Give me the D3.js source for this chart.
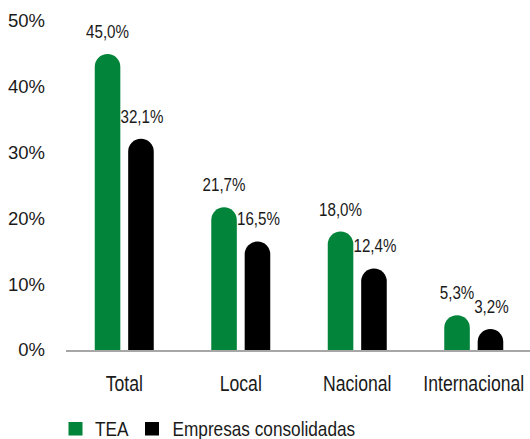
<!DOCTYPE html>
<html><head><meta charset="utf-8">
<script src="https://cdn.jsdelivr.net/npm/d3@7"></script>
<style>body{margin:0;background:#fff}svg{display:block}text{fill:#1a1a1a;font-family:"Liberation Sans",Arial,sans-serif}</style>
</head><body><svg id="c" width="530" height="439"></svg>
<script>
const categories = ["Total","Local","Nacional","Internacional"];
const series = ["TEA","Empresas consolidadas"];
const teaValues = [45.0, 21.7, 18.0, 5.3];
const consolidadasValues = [32.1, 16.5, 12.4, 3.2];
const yTicks = [0,10,20,30,40,50];
const colors = ["#03843b","#000000"];
const NARROW = 0.82;

const svg = d3.select("#c");
const x0 = d3.scaleBand().domain(categories).range([66,532]);
const bw = x0.bandwidth();
const x1 = d3.scaleBand().domain(series).range([bw/2-29.5, bw/2+29.5]).paddingInner(0.235);
const y = d3.scaleLinear().domain([0,50]).range([350,21]);
const loc = d3.formatLocale({decimal:",",thousands:".",grouping:[3],currency:["","€"]});
const fmt = loc.format(".1f");

const data = categories.map((c,i)=>({cat:c, vals:[teaValues[i], consolidadasValues[i]]}));
const tr = (x,y)=>`translate(${x},${y}) scale(${NARROW},1)`;

svg.append("g").selectAll("text").data(yTicks).join("text")
  .attr("x",45).attr("y",d=>y(d)).attr("dy","0.35em")
  .attr("text-anchor","end").style("font-size","18.5px")
  .text(d=>d+"%");

function barPath(x,w,top,base){
  const r=w/2;
  return `M${x},${base}V${top+r}A${r},${r} 0 0 1 ${x+w},${top+r}V${base}Z`;
}

const g = svg.append("g").selectAll("g").data(data).join("g")
  .attr("transform",d=>`translate(${x0(d.cat)},0)`);
g.selectAll("path").data(d=>d.vals.map((v,j)=>({v,s:series[j],j}))).join("path")
  .attr("d",d=>barPath(x1(d.s),x1.bandwidth(),y(d.v),y(0)))
  .attr("fill",d=>colors[d.j]);
g.selectAll("text.val").data(d=>d.vals.map((v,j)=>({v,s:series[j],j}))).join("text")
  .attr("class","val")
  .attr("transform",d=>tr(x1(d.s)+x1.bandwidth()/2+(d.j?1:0), y(d.v)-16))
  .attr("text-anchor","middle").style("font-size","18.5px")
  .text(d=>fmt(d.v)+"%");

svg.append("line").attr("x1",66).attr("x2",530).attr("y1",y(0)+1).attr("y2",y(0)+1)
  .attr("stroke","#a6a6a6").attr("stroke-width",2);

svg.append("g").selectAll("text").data(categories).join("text")
  .attr("transform",d=>tr(x0(d)+bw/2,391))
  .attr("text-anchor","middle").style("font-size","21.5px")
  .text(d=>d);

const leg = svg.append("g");
const legX = [68.5,145];
const legTX = [95,172.5];
series.forEach((s,i)=>{
  leg.append("rect").attr("x",legX[i]).attr("y",422).attr("width",14).attr("height",13.5).attr("fill",colors[i]);
  leg.append("text").attr("transform",tr(legTX[i],436)).style("font-size","21px").text(s);
});
</script></body></html>
